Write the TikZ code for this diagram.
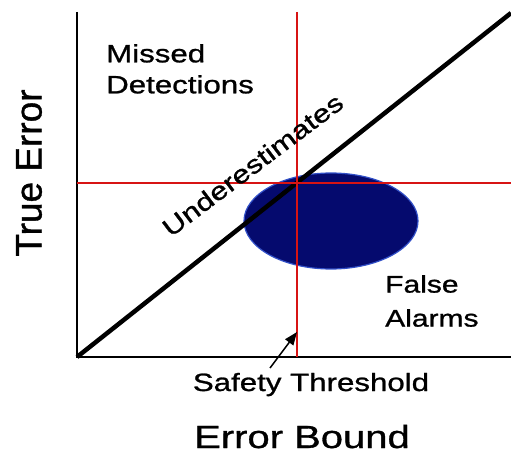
\documentclass[tikz,border=0pt]{standalone}
\usepackage{fontspec}
\setmainfont{Liberation Sans}[FakeBold=1]
\newfontfamily\widesans[FakeStretch=1.25,FakeBold=1]{Liberation Sans}
\usetikzlibrary{arrows.meta,calc}
\definecolor{thrred}{RGB}{215,20,20}
\definecolor{blobfill}{RGB}{5,10,110}
\definecolor{blobedge}{RGB}{50,80,200}

\tikzset{
  axisline/.style={line width=1.5pt,black},
  thrline/.style={line width=2.5pt,thrred},
  lbl/.style={inner sep=0pt,align=left,font=\widesans\fontsize{25}{31}\selectfont}
}

\begin{document}
\begin{tikzpicture}[x=1pt,y=-1pt]
\useasboundingbox (0,0) rectangle (511,454);
% error blob
\fill[blobfill,draw=blobedge,line width=1.2pt] (331,221) ellipse [x radius=87,y radius=48];
% axes and the diagonal
\draw[axisline] (77,12) -- (77,357) -- (511,357);
\draw[line width=4.5pt] (77,357) -- (511,13);
% thresholds
\draw[thrline] (297,12) -- (297,357);
\draw[thrline] (77,183) -- (511,183);
% labels
\node[lbl,anchor=north west] (missed) at (106,44) {Missed\\Detections};
\node[lbl,anchor=north west,font=\widesans\fontsize{24}{34}\selectfont] (falsealarm) at (385,275) {False\\Alarms};
\node[lbl,anchor=base,rotate=37] (under) at (258,172) {Underestimates};
\node[lbl,anchor=base] (safety) at (311,391) {Safety Threshold};
\node[inner sep=0pt,anchor=base,font=\widesans\fontsize{32}{38}\selectfont] (xlabel) at (302,448) {Error Bound};
\node[inner sep=0pt,rotate=90,font=\fontsize{37}{44}\selectfont] (ylabel) at (29,173) {True Error};
% pointer to the threshold
\coordinate (ptrtail) at (270,368);
\coordinate (ptrtip) at (297,332);
\draw[line width=1.5pt,-{Triangle[length=13pt,width=10pt]}] (ptrtail) -- (ptrtip);
\end{tikzpicture}
\end{document}
